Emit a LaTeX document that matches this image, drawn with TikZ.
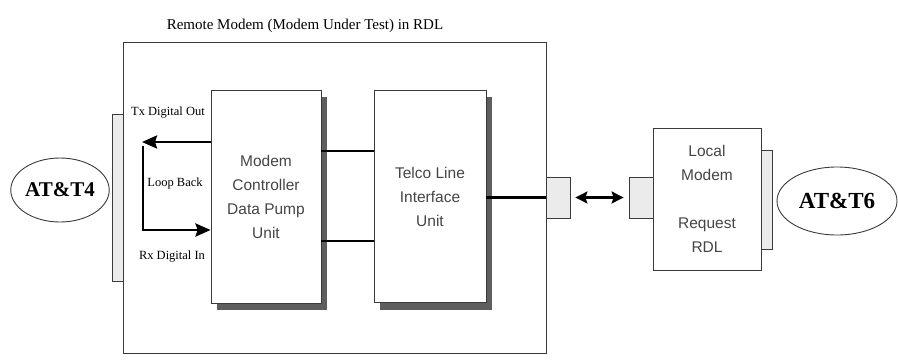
\documentclass[tikz,border=0pt]{standalone}
\usepackage{fontspec}
\setmainfont{Liberation Serif}
\setsansfont{Liberation Sans}
\usepackage{tikz}
\usetikzlibrary{positioning, shapes.geometric, arrows.meta, calc}

\definecolor{edge}{HTML}{3A3A3A}
\definecolor{shade}{HTML}{5E5E5E}
\definecolor{plugfill}{HTML}{EBEBEB}
\definecolor{sanstext}{HTML}{454545}

\tikzset{
  unit/.style={draw=edge, line width=0.9pt, fill=white, rectangle, inner sep=0pt,
    align=center, font=\sffamily\fontsize{15.5}{24}\selectfont, text=sanstext},
  plug/.style={draw=edge, line width=0.8pt, fill=plugfill, rectangle, inner sep=0pt,
    minimum width=24pt, minimum height=41pt},
  jack/.style={draw=edge, line width=0.8pt, fill=plugfill, rectangle, inner sep=0pt},
  term/.style={draw=edge, line width=0.9pt, ellipse, inner sep=0pt, font=\bfseries},
  sig/.style={font=\fontsize{12.5}{12.5}\selectfont},
  bus/.style={line width=2.8pt},
  tip/.style={-{Stealth[length=15pt, width=13pt, inset=2pt]}},
  drop/.style={fill=shade, draw=none},
}

\begin{document}
\begin{tikzpicture}[x=1pt, y=-1pt]
  \useasboundingbox (0,0) rectangle (898,360);

  \node[draw=edge, line width=0.9pt, minimum width=423pt, minimum height=311pt, inner sep=0pt] (outer) at (334.5, 197.5) {};
  \node[font=\fontsize{15}{15}\selectfont] (title) at (305, 26) {Remote Modem (Modem Under Test) in RDL};

  \node[jack, minimum width=11pt, minimum height=167pt] (jackL) at (117.5, 197.5) {};
  \node[term, minimum width=96pt, minimum height=64pt, font=\bfseries\fontsize{21}{21}\selectfont] (att4) at (60, 190) {AT\&T4};

  \node[unit, minimum width=110pt, minimum height=213pt] (ctrl) at (266, 196.5) {Modem\\Controller\\Data Pump\\Unit};
  \node[unit, minimum width=112pt, minimum height=212pt] (telco) at (430, 196.5) {Telco Line\\Interface\\Unit};

  \fill[drop] ([xshift=0.5pt, yshift=-7pt]ctrl.north east) rectangle ([xshift=6pt, yshift=-7pt]ctrl.south east);
  \fill[drop] ([xshift=6pt, yshift=-0.5pt]ctrl.south west) rectangle ([xshift=6pt, yshift=-7pt]ctrl.south east);
  \fill[drop] ([xshift=0.5pt, yshift=-7pt]telco.north east) rectangle ([xshift=6pt, yshift=-7pt]telco.south east);
  \fill[drop] ([xshift=6pt, yshift=-0.5pt]telco.south west) rectangle ([xshift=6pt, yshift=-7pt]telco.south east);

  \node[plug] (plugR) at (558, 197.5) {};
  \node[plug] (plugL) at (641, 197.5) {};
  \node[unit, minimum width=108pt, minimum height=142pt] (local) at (707, 199) {Local\\Modem\\[24pt]Request\\RDL};
  \node[jack, minimum width=11pt, minimum height=99pt] (jackR) at (766.5, 199.5) {};
  \node[term, minimum width=120pt, minimum height=68pt, font=\bfseries\fontsize{23}{23}\selectfont] (att6) at (837, 201) {AT\&T6};

  \node[sig] (tx) at (168, 113) {Tx Digital Out};
  \node[sig] (loop) at (175, 183) {Loop Back};
  \node[sig] (rx) at (172, 257) {Rx Digital In};

  \coordinate (txend) at (142, 142);
  \coordinate (lbtop) at (143, 146);
  \coordinate (lbbot) at (143, 230);
  \coordinate (busA) at (0, 151);
  \coordinate (busB) at (0, 241);

  \draw[bus, tip] (ctrl.west |- txend) -- (txend);
  \draw[line width=2.2pt] (lbtop) -- (lbbot);
  \draw[bus, tip] ([xshift=-1.1pt]lbbot) -- (ctrl.west |- lbbot);

  \draw[bus] (ctrl.east |- busA) -- (telco.west |- busA);
  \draw[bus] (ctrl.east |- busB) -- (telco.west |- busB);
  \draw[bus] (telco.east |- plugR) -- (plugR.west);
  \draw[line width=2.2pt, {Stealth[length=12pt, width=12pt, inset=2pt]}-{Stealth[length=12pt, width=12pt, inset=2pt]}] ([xshift=5pt]plugR.east) -- ([xshift=-5pt]plugL.west);
\end{tikzpicture}
\end{document}
